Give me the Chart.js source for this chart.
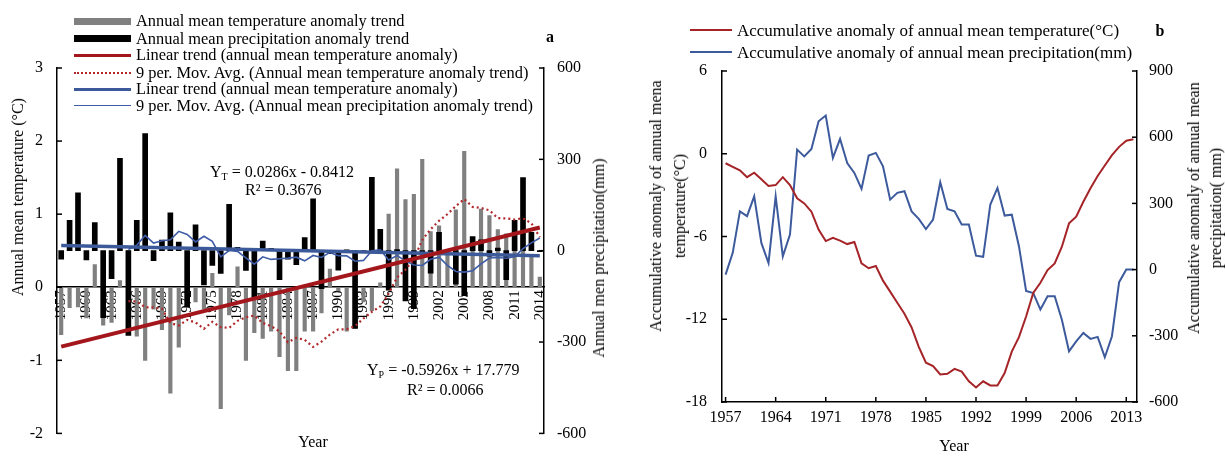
<!DOCTYPE html>
<html>
<head>
<meta charset="utf-8">
<script src="https://cdn.jsdelivr.net/npm/chart.js@4/dist/chart.umd.min.js"></script>
<style>
html, body { margin: 0; padding: 0; background: #fff; }
#wrap { position: relative; width: 1225px; height: 457px; overflow: hidden; font-family: "Liberation Serif", "Times New Roman", serif; color: #000; }
canvas { position: absolute; top: 0; }
.t { position: absolute; white-space: nowrap; font-size: 16px; line-height: 1; }
.c { transform: translate(-50%, -50%); }
.l { transform: translateY(-50%); }
.r { transform: translate(-50%, -50%) rotate(-90deg); text-align: center; }
.lg { font-size: 16.4px; }
.sw { position: absolute; }
sub { font-size: 10px; vertical-align: -3px; line-height: 0; }
</style>
</head>
<body>
<div id="wrap">
  <canvas id="chartA" width="600" height="457" style="left:0"></canvas>
  <canvas id="chartB" width="625" height="457" style="left:600px"></canvas>

  <!-- panel a legend -->
  <div class="sw" style="left:74px;top:18px;width:57px;height:6.5px;background:#808080"></div>
  <div class="sw" style="left:74px;top:35px;width:57px;height:7px;background:#000"></div>
  <div class="sw" style="left:74px;top:53.5px;width:57px;height:3px;background:#A3161B"></div>
  <div class="sw" style="left:74px;top:71.5px;width:57px;height:0;border-top:2px dotted #B0282A"></div>
  <div class="sw" style="left:74px;top:87.5px;width:57px;height:3.5px;background:#3C5A9A"></div>
  <div class="sw" style="left:74px;top:104.5px;width:57px;height:1.5px;background:#3D5BA6"></div>
  <div class="t l lg" style="left:136px;top:21px">Annual mean temperature anomaly trend</div>
  <div class="t l lg" style="left:136px;top:38.5px">Annual mean precipitation anomaly trend</div>
  <div class="t l lg" style="left:136px;top:55px">Linear trend (annual mean temperature anomaly)</div>
  <div class="t l lg" style="left:136px;top:72.5px">9 per. Mov. Avg. (Annual mean temperature anomaly trend)</div>
  <div class="t l lg" style="left:136px;top:89px">Linear trend (annual mean temperature anomaly)</div>
  <div class="t l lg" style="left:136px;top:105.5px">9 per. Mov. Avg. (Annual mean precipitation anomaly trend)</div>
  <div class="t c" style="left:550px;top:37px;font-weight:bold">a</div>

  <!-- panel a titles and notes -->
  <div class="t r" style="left:18px;top:197px">Annual mean temperature (°C)</div>
  <div class="t r" style="left:599px;top:258px">Annual men precipitation(mm)</div>
  <div class="t c" style="left:313px;top:442px">Year</div>
  <div class="t l" style="left:210px;top:172px">Y<sub>T</sub> = 0.0286x - 0.8412</div>
  <div class="t l" style="left:245px;top:190px">R² = 0.3676</div>
  <div class="t l" style="left:367px;top:370px">Y<sub>P</sub> = -0.5926x + 17.779</div>
  <div class="t l" style="left:407px;top:390px">R² = 0.0066</div>

  <!-- panel b legend and titles -->
  <div class="sw" style="left:690px;top:29px;width:42px;height:2px;background:#A52428"></div>
  <div class="sw" style="left:690px;top:51px;width:42px;height:2px;background:#3D5A9C"></div>
  <div class="t l" style="left:737px;top:30px;font-size:17px">Accumulative anomaly of annual mean temperature(°C)</div>
  <div class="t l" style="left:737px;top:52px;font-size:17px">Accumulative anomaly of annual mean precipitation(mm)</div>
  <div class="t c" style="left:1160px;top:31px;font-weight:bold">b</div>
  <div class="t r" style="left:668px;top:206px;line-height:24px">Accumulative anomaly of annual mena<br>temperature(°C)</div>
  <div class="t r" style="left:1205px;top:208px;line-height:22px">Accumulative anomaly of annual mean<br>precipitation( mm)</div>
  <div class="t c" style="left:954px;top:446px">Year</div>
</div>

<script>
// categories
const years = Array.from({ length: 58 }, (_, i) => String(1957 + i));

// panel a: annual anomalies (temperature in °C, precipitation in mm)
const tempAnomaly = [
  -0.65, -0.28, -0.27, -0.42, 0.31, -0.52, -0.48, 0.09, 0.5, -0.67,
  -1.0, -0.3, -0.58, -1.45, -0.82, 0.2, -0.2, -0.3, 0.19, -1.66,
  -0.38, 0.28, -1.0, -0.62, -0.7, -0.6, -0.95, -1.14, -1.14, -0.6,
  -0.6, -0.35, 0.25, -0.05, -0.6, -0.56, -0.2, -0.32, 0.06, 1.0,
  1.62, 1.2, 1.27, 1.75, 0.76, 0.84, 0.5, 1.06, 1.86, 0.65,
  1.07, 0.98, 0.79, 0.73, 0.7, 0.65, 0.45, 0.14
];
const precAnomaly = [
  -28, 100, 190, -30, 92, -220, -92, 303, -278, 100,
  385, -33, 35, 124, 28, -185, 85, -112, -48, -75,
  152, 11, -65, -160, 32, 8, -95, -28, -46, 43,
  170, -125, -10, -64, 3, -255, -3, 241, 70, -130,
  4, -165, -190, -8, -74, 60, -2, -110, -148, 46,
  36, -18, 9, -95, 100, 240, 60, -3
];

// linear trends printed on panel a (x = 1..58)
const trendTemp = { slope: 0.0286, intercept: -0.8412 };
const trendPrec = { slope: -0.5926, intercept: 17.779 };

// panel b: accumulative anomalies
const cumTemp = [
  -0.69, -0.95, -1.2, -1.7, -1.37, -1.85, -2.34, -2.27, -1.7, -2.27,
  -3.23, -3.6, -4.2, -5.5, -6.33, -6.09, -6.3, -6.55, -6.4, -7.95,
  -8.3, -8.14, -9.2, -10.0, -10.8, -11.6, -12.6, -14.0, -15.15, -15.4,
  -16.0, -15.95, -15.6, -15.8, -16.5, -16.95, -16.5, -16.8, -16.8, -15.9,
  -14.35, -13.3, -11.8, -10.1, -9.35, -8.43, -7.95, -6.74, -5.05, -4.56,
  -3.48, -2.5, -1.61, -0.85, -0.1, 0.5, 0.95, 1.05
];
const cumPrec = [
  -23, 76, 264, 242, 332, 121, 30, 332, 60, 159,
  544, 513, 547, 672, 698, 506, 592, 483, 438, 366,
  517, 529, 468, 317, 348, 355, 264, 230, 184, 227,
  396, 275, 264, 204, 204, 63, 58, 295, 370, 245,
  249, 106, -97, -106, -181, -121, -121, -227, -370, -325,
  -287, -314, -305, -397, -302, -57, 0, 0
];

// tick labels
const tempTicks = [-2, -1, 0, 1, 2, 3];
const precTicks = [-600, -300, 0, 300, 600];
const cumTempTicks = [-18, -12, -6, 0, 6];
const cumPrecTicks = [-600, -300, 0, 300, 600, 900];

const FONT = '"Liberation Serif", "Times New Roman", serif';

// 9 period moving average, same as the spreadsheet trendline
function movAvg(arr, n) {
  return arr.map((v, i) => i < n - 1 ? null :
    arr.slice(i - n + 1, i + 1).reduce((s, x) => s + x, 0) / n);
}

function trendEnds(t) {
  const n = years.length;
  return [
    { x: years[0], y: t.slope * 1 + t.intercept },
    { x: years[n - 1], y: t.slope * n + t.intercept }
  ];
}

// small tick marks pointing into the plot
const inwardTicks = {
  id: 'inwardTicks',
  afterDraw(chart, args, opts) {
    const ctx = chart.ctx;
    const len = opts.len || 5;
    ctx.save();
    ctx.strokeStyle = '#000';
    ctx.lineWidth = 1.5;
    (opts.axes || []).forEach(id => {
      const s = chart.scales[id];
      if (s.isHorizontal()) {
        s.ticks.forEach((t, i) => {
          if (i % (opts.every || 1)) return;
          const x = s.getPixelForTick(i);
          ctx.beginPath();
          ctx.moveTo(x, s.top);
          ctx.lineTo(x, s.top - len);
          ctx.stroke();
        });
      } else {
        const left = s.position === 'left';
        const x = left ? s.right : s.left;
        s.ticks.forEach(t => {
          const y = s.getPixelForValue(t.value);
          ctx.beginPath();
          ctx.moveTo(x, y);
          ctx.lineTo(x + (left ? len : -len), y);
          ctx.stroke();
        });
      }
    });
    ctx.restore();
  }
};

function yAxis(pos, min, max, ticks, width, pad, size) {
  return {
    position: pos,
    min: min,
    max: max,
    afterBuildTicks: s => { s.ticks = ticks.map(v => ({ value: v })); },
    afterFit: s => { s.width = width; },
    grid: { display: false, drawTicks: false },
    border: { display: true, color: '#000', width: 1.5 },
    ticks: { padding: pad, color: '#000', font: { family: FONT, size: size } }
  };
}

// panel a
new Chart(document.getElementById('chartA'), {
  type: 'bar',
  data: {
    labels: years,
    datasets: [
      {
        type: 'line', label: 'Linear trend (annual mean temperature anomaly)',
        data: trendEnds(trendTemp), yAxisID: 'y',
        borderColor: '#A3161B', borderWidth: 4, pointRadius: 0, order: 1
      },
      {
        type: 'line', label: 'Linear trend (annual mean precipitation anomaly)',
        data: trendEnds(trendPrec), yAxisID: 'y1',
        borderColor: '#3C5A9A', borderWidth: 3.5, pointRadius: 0, order: 2
      },
      {
        type: 'line', label: '9 per. Mov. Avg. (Annual mean temperature anomaly trend)',
        data: movAvg(tempAnomaly, 9), yAxisID: 'y',
        borderColor: '#B0282A', borderWidth: 2.2, borderDash: [2, 3],
        pointRadius: 0, order: 3
      },
      {
        type: 'line', label: '9 per. Mov. Avg. (Annual mean precipitation anomaly trend)',
        data: movAvg(precAnomaly, 9), yAxisID: 'y1',
        borderColor: '#3D5BA6', borderWidth: 1.6, pointRadius: 0, order: 4
      },
      {
        label: 'Annual mean precipitation anomaly trend',
        data: precAnomaly, yAxisID: 'y1',
        backgroundColor: '#000', barThickness: 5, grouped: false, order: 5
      },
      {
        label: 'Annual mean temperature anomaly trend',
        data: tempAnomaly, yAxisID: 'y',
        backgroundColor: '#808080', barThickness: 3.5, grouped: false, order: 6
      }
    ]
  },
  options: {
    responsive: false,
    animation: false,
    devicePixelRatio: 1,
    layout: { padding: { top: 68, bottom: 9, left: 0, right: 0 } },
    plugins: {
      legend: { display: false },
      tooltip: { enabled: false },
      inwardTicks: { axes: ['y', 'y1'], len: 5 }
    },
    scales: {
      x: {
        type: 'category',
        position: { y: 0 },
        offset: true,
        grid: { display: false, drawTicks: false },
        border: { display: true, color: '#000', width: 1.5 },
        ticks: {
          autoSkip: false, minRotation: 90, maxRotation: 90, padding: 3,
          color: '#000', font: { family: FONT, size: 15 },
          callback: function (v, i) { return i % 3 === 0 ? this.getLabelForValue(v) : ''; }
        }
      },
      y: yAxis('left', -2, 3, tempTicks, 57, 14, 16),
      y1: yAxis('right', -600, 600, precTicks, 56, 13, 16)
    }
  },
  plugins: [inwardTicks]
});

// panel b
new Chart(document.getElementById('chartB'), {
  type: 'line',
  data: {
    labels: years,
    datasets: [
      {
        label: 'Accumulative anomaly of annual mean temperature(°C)',
        data: cumTemp, yAxisID: 'y',
        borderColor: '#A52428', borderWidth: 2, pointRadius: 0, tension: 0
      },
      {
        label: 'Accumulative anomaly of annual mean precipitation(mm)',
        data: cumPrec, yAxisID: 'y1',
        borderColor: '#3D5A9C', borderWidth: 2, pointRadius: 0, tension: 0
      }
    ]
  },
  options: {
    responsive: false,
    animation: false,
    devicePixelRatio: 1,
    layout: { padding: { top: 71, bottom: 0, left: 0, right: 0 } },
    plugins: {
      legend: { display: false },
      tooltip: { enabled: false },
      inwardTicks: { axes: ['x', 'y', 'y1'], len: 5, every: 7 }
    },
    scales: {
      x: {
        offset: true,
        afterFit: s => { s.height = 55; },
        grid: { display: false, drawTicks: false },
        border: { display: true, color: '#000', width: 1.5 },
        ticks: {
          autoSkip: false, minRotation: 0, maxRotation: 0, padding: 6,
          color: '#000', font: { family: FONT, size: 16 },
          callback: (v, i) => i % 7 === 0 ? years[i] : ''
        }
      },
      y: yAxis('left', -18, 6, cumTempTicks, 122, 15, 16),
      y1: yAxis('right', -600, 900, cumPrecTicks, 88, 12, 16)
    }
  },
  plugins: [inwardTicks]
});
</script>
</body>
</html>
